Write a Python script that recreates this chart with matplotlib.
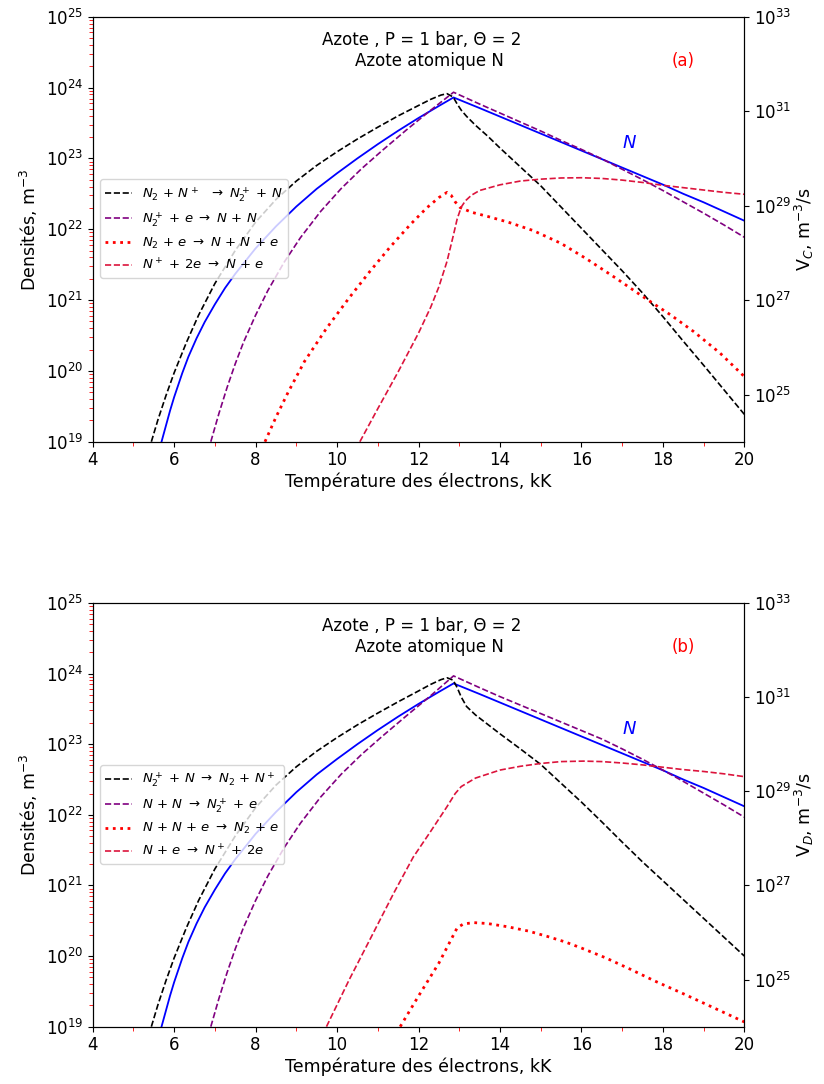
import numpy as np
import matplotlib
matplotlib.use('Agg')
import matplotlib.pyplot as plt
from matplotlib.ticker import MultipleLocator, FixedLocator, NullLocator

# Densité de l'azote atomique N (log10, m^-3), identique en (a) et (b)
T_N = [5.69, 5.9, 6.0, 6.2, 6.35, 6.55, 6.75, 7.0, 7.25, 7.5, 8.0, 8.5, 9.0, 9.5, 10.0, 10.5, 11.0, 11.5, 12.0,
       12.5, 12.86, 13.5, 14.0, 14.5, 15.0, 15.5, 16.0, 16.5, 17.0, 17.5, 18.0, 18.5, 19.0, 19.5, 20.0]
logN = [19.0, 19.44, 19.63, 19.97, 20.2, 20.46, 20.69, 20.94, 21.17, 21.37, 21.73, 22.04, 22.32, 22.57, 22.79,
        23.0, 23.2, 23.39, 23.57, 23.74, 23.86,
        23.71, 23.59, 23.47, 23.35, 23.23, 23.11, 22.99, 22.87, 22.75, 22.63, 22.5, 22.38, 22.25, 22.12]

# (a) taux de création V_C (log10, m^-3/s)
T_a1 = [5.44, 5.6, 5.8, 6.0, 6.3, 6.6, 7.0, 7.5, 8.0, 8.5, 9.0, 9.5, 10.0, 10.5, 11.0, 11.5, 12.0, 12.3,
        12.55, 12.7, 12.85, 12.95, 13.05, 13.18, 13.4, 13.7, 14.0, 14.5, 15.0, 15.5, 16.0, 16.5, 17.0,
        17.5, 18.0, 18.5, 19.0, 19.5, 20.0]
V_a1 = [24.0, 24.46, 24.98, 25.46, 26.1, 26.68, 27.35, 28.05, 28.65, 29.13, 29.52, 29.85, 30.14, 30.41, 30.66,
        30.9, 31.12, 31.25, 31.34, 31.37, 31.3, 31.15, 31.02, 30.89, 30.7, 30.47, 30.22, 29.82, 29.42,
        28.97, 28.52, 28.07, 27.62, 27.15, 26.65, 26.13, 25.62, 25.1, 24.58]
T_a2 = [6.9, 7.1, 7.3, 7.5, 7.7, 8.0, 8.3, 8.7, 9.1, 9.6, 10.1, 10.6, 11.1, 11.7, 12.3, 12.86,
        13.5, 14.0, 14.5, 15.0, 15.5, 16.0, 16.5, 17.0, 17.5, 18.0, 18.5, 19.0, 19.5, 20.0]
V_a2 = [24.0, 24.6, 25.15, 25.65, 26.1, 26.68, 27.2, 27.8, 28.32, 28.88, 29.36, 29.78, 30.16, 30.6, 31.02, 31.4,
        31.15, 30.96, 30.77, 30.58, 30.38, 30.19, 29.99, 29.77, 29.55, 29.32, 29.08, 28.84, 28.59, 28.33]
T_a3 = [8.23, 8.5, 8.8, 9.2, 9.74, 10.3, 10.8, 11.3, 11.8, 12.2, 12.5, 12.7, 12.8, 12.9, 13.02, 13.3,
        13.7, 14.2, 14.82, 15.5, 16.13, 16.87, 17.53, 18.2, 18.76, 19.4, 20.0]
V_a3 = [24.0, 24.52, 25.05, 25.7, 26.4, 27.05, 27.6, 28.12, 28.6, 28.95, 29.17, 29.28, 29.22, 29.08, 28.96, 28.86,
        28.77, 28.65, 28.47, 28.2, 27.87, 27.45, 27.06, 26.68, 26.33, 25.88, 25.38]
T_a4 = [10.56, 11.0, 11.5, 12.0, 12.3, 12.5, 12.7, 12.85, 12.95, 13.05, 13.15, 13.3, 13.5, 14.0, 14.5, 15.0,
        15.5, 16.0, 16.5, 17.0, 17.5, 18.0, 18.5, 19.0, 19.5, 20.0]
V_a4 = [24.0, 24.7, 25.48, 26.3, 26.85, 27.28, 27.82, 28.35, 28.72, 28.97, 29.1, 29.22, 29.32, 29.44, 29.52, 29.56,
        29.585, 29.59, 29.575, 29.54, 29.49, 29.43, 29.38, 29.33, 29.28, 29.24]

# (b) taux de disparition V_D (log10, m^-3/s)
T_b1 = [5.44, 5.6, 5.8, 6.0, 6.3, 6.6, 7.0, 7.5, 8.0, 8.5, 9.0, 9.5, 10.0, 10.5, 11.0, 11.5, 12.0, 12.3,
        12.55, 12.7, 12.85, 12.95, 13.05, 13.18, 13.4, 13.7, 14.0, 14.5, 15.0, 15.5, 16.0, 16.5, 17.0,
        17.5, 18.0, 18.5, 19.0, 19.5, 20.0]
V_b1 = [24.0, 24.46, 24.98, 25.46, 26.1, 26.68, 27.35, 28.05, 28.65, 29.13, 29.52, 29.85, 30.14, 30.41, 30.66,
        30.9, 31.13, 31.27, 31.37, 31.41, 31.36, 31.2, 31.0, 30.8, 30.62, 30.42, 30.22, 29.9, 29.57,
        29.17, 28.77, 28.35, 27.92, 27.5, 27.1, 26.7, 26.3, 25.9, 25.5]
T_b2 = [6.9, 7.1, 7.3, 7.5, 7.7, 8.0, 8.3, 8.7, 9.1, 9.6, 10.1, 10.6, 11.1, 11.7, 12.3, 12.86,
        13.5, 14.0, 14.5, 15.0, 15.5, 16.0, 16.5, 17.0, 17.5, 18.0, 18.5, 19.0, 19.5, 20.0]
V_b2 = [24.0, 24.6, 25.15, 25.65, 26.1, 26.68, 27.2, 27.8, 28.32, 28.88, 29.36, 29.78, 30.16, 30.6, 31.03, 31.45,
        31.2, 31.01, 30.83, 30.65, 30.47, 30.29, 30.11, 29.9, 29.68, 29.45, 29.21, 28.96, 28.71, 28.45]
T_b3 = [11.55, 12.0, 12.5, 12.8, 12.95, 13.1, 13.35, 13.7, 14.2, 14.7, 15.15, 15.6, 16.0, 16.6, 17.2,
        17.8, 18.5, 19.0, 19.5, 20.0]
V_b3 = [24.0, 24.65, 25.35, 25.85, 26.1, 26.18, 26.21, 26.19, 26.12, 26.03, 25.92, 25.8, 25.67, 25.46, 25.22,
        24.97, 24.7, 24.5, 24.3, 24.1]
T_b4 = [9.74, 10.3, 10.89, 11.4, 11.87, 12.3, 12.69, 12.9, 13.05, 13.4, 14.0, 14.5, 15.0, 15.5, 16.05,
        16.5, 17.0, 17.5, 18.1, 18.5, 19.0, 19.5, 20.0]
V_b4 = [24.0, 25.0, 25.99, 26.85, 27.6, 28.15, 28.66, 28.95, 29.1, 29.28, 29.45, 29.53, 29.59, 29.63, 29.64,
        29.63, 29.6, 29.56, 29.5, 29.46, 29.42, 29.37, 29.31]

labels_a = [r'$N_2$ + $N^+$  $\rightarrow$ $N_2^+$ + $N$',
            r'$N_2^+$ + $e$ $\rightarrow$ $N$ + $N$',
            r'$N_2$ + $e$ $\rightarrow$ $N$ + $N$ + $e$',
            r'$N^+$ + 2$e$ $\rightarrow$ $N$ + $e$']
labels_b = [r'$N_2^+$ + $N$ $\rightarrow$ $N_2$ + $N^+$',
            r'$N$ + $N$ $\rightarrow$ $N_2^+$ + $e$',
            r'$N$ + $N$ + $e$ $\rightarrow$ $N_2$ + $e$',
            r'$N$ + $e$ $\rightarrow$ $N^+$ + 2$e$']

colors = ['black', 'purple', 'red', 'crimson']
styles = ['--', '--', ':', '--']
widths = [1.2, 1.2, 2.0, 1.2]


def panel(rect, curves, labels, vlabel, tag):
    ax = fig.add_axes(rect)
    ax.set_yscale('log')
    ax.plot(T_N, 10 ** np.array(logN), color='blue', lw=1.3)
    ax.set_xlim(4, 20)
    ax.set_ylim(1e19, 1e25)
    ax.xaxis.set_major_locator(MultipleLocator(2))
    ax.xaxis.set_minor_locator(MultipleLocator(1))
    ax.yaxis.set_major_locator(FixedLocator([10.0 ** k for k in range(19, 26)]))
    ax.yaxis.set_minor_locator(FixedLocator([s * 10.0 ** k for k in range(19, 25) for s in range(2, 10)]))
    ax.tick_params(which='both', labelsize=12)
    ax.tick_params(which='minor', color='red', length=3)
    ax.set_xlabel('Température des électrons, kK', fontsize=12.5, labelpad=2)
    ax.set_ylabel('Densités, m$^{-3}$', fontsize=12.5)
    ax.text(17.17, 10 ** 23.22, '$N$', color='blue', fontsize=13, ha='center', va='center')
    ax.text(0.352, 0.946, 'Azote , P = 1 bar, Θ = 2', transform=ax.transAxes, fontsize=12, va='center')
    ax.text(0.402, 0.895, 'Azote atomique N', transform=ax.transAxes, fontsize=12, va='center')
    ax.text(0.906, 0.895, tag, transform=ax.transAxes, fontsize=12, color='red',
            ha='center', va='center')

    ax2 = ax.twinx()
    ax2.set_yscale('log')
    for (t, v), lab, c, ls, lw in zip(curves, labels, colors, styles, widths):
        ax2.plot(t, 10 ** np.array(v), color=c, ls=ls, lw=lw, label=lab)
    ax2.set_ylim(1e24, 1e33)
    ax2.yaxis.set_major_locator(FixedLocator([1e25, 1e27, 1e29, 1e31, 1e33]))
    ax2.yaxis.set_minor_locator(NullLocator())
    ax2.tick_params(labelsize=12)
    ax2.set_ylabel(vlabel, fontsize=12.5, labelpad=1)
    ax2.legend(loc='upper left', bbox_to_anchor=(0.011, 0.617), borderaxespad=0,
               fontsize=9.5, handlelength=2.0)


fig = plt.figure(figsize=(8.24, 10.84), dpi=100)
panel([0.1125, 0.5925, 0.7908, 0.3921],
      [(T_a1, V_a1), (T_a2, V_a2), (T_a3, V_a3), (T_a4, V_a4)],
      labels_a, 'V$_C$, m$^{-3}$/s', '(a)')
panel([0.1125, 0.0529, 0.7908, 0.3909],
      [(T_b1, V_b1), (T_b2, V_b2), (T_b3, V_b3), (T_b4, V_b4)],
      labels_b, 'V$_D$, m$^{-3}$/s', '(b)')
fig.savefig('out.png', dpi=100)
